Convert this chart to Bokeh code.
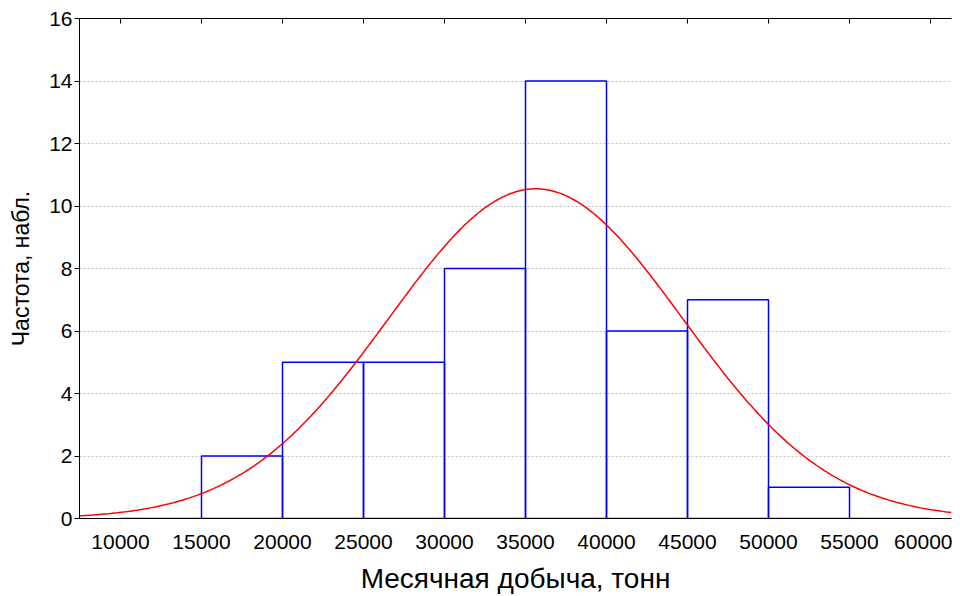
import numpy as np
from bokeh.plotting import figure
from bokeh.models import LinearAxis, Range1d, FixedTicker, ColumnDataSource
from bokeh.embed import file_html
from bokeh.resources import INLINE

# Histogram data
bin_left = [10000, 15000, 20000, 25000, 30000, 35000, 40000, 45000, 50000, 55000]
bin_right = [15000, 20000, 25000, 30000, 35000, 40000, 45000, 50000, 55000, 60000]
counts = [0, 2, 5, 5, 8, 14, 6, 7, 1, 0]

# Fitted normal curve parameters
fit_mean = 35625
fit_sd = 9075
bin_width = 5000

x_ticks = [10000, 15000, 20000, 25000, 30000, 35000, 40000, 45000, 50000, 55000, 60000]
y_ticks = [0, 2, 4, 6, 8, 10, 12, 14, 16]

X0, X1 = 7469, 61296
FONT = "Liberation Sans"

p = figure(width=952, height=596, output_backend="svg", toolbar_location=None,
           x_range=Range1d(X0, X1), y_range=Range1d(0, 16),
           x_axis_location=None, y_axis_location=None,
           min_border_left=79, min_border_right=1, min_border_top=18, min_border_bottom=76)
p.outline_line_color = None
p.background_fill_color = "white"
p.border_fill_color = "white"

# grid
p.xgrid.visible = False
p.ygrid.ticker = FixedTicker(ticks=[2, 4, 6, 8, 10, 12, 14])
p.ygrid.grid_line_color = "#c4c4c4"
p.ygrid.grid_line_dash = "2 2"
p.ygrid.grid_line_width = 1

# bottom axis
xb = LinearAxis(ticker=FixedTicker(ticks=x_ticks), axis_label="Месячная добыча, тонн")
xb.major_tick_in = 0
xb.major_tick_out = 0
xb.minor_tick_line_color = None
xb.major_label_standoff = 16
xb.major_label_text_font = FONT
xb.major_label_text_font_size = "21px"
xb.major_label_text_color = "black"
xb.axis_label_text_font = FONT
xb.axis_label_text_font_size = "28px"
xb.axis_label_text_font_style = "normal"
xb.axis_label_text_color = "black"
xb.axis_label_standoff = 11
xb.axis_line_color = "black"
p.add_layout(xb, "below")

# top axis (inward ticks, no labels)
xt = LinearAxis(ticker=FixedTicker(ticks=x_ticks))
xt.major_tick_in = 5
xt.major_tick_out = 0
xt.minor_tick_line_color = None
xt.major_label_text_color = None
xt.major_label_text_font_size = "1px"
xt.major_label_standoff = 0
xt.axis_line_color = "black"
xt.major_tick_line_color = "black"
p.add_layout(xt, "above")

# left axis
yl = LinearAxis(ticker=FixedTicker(ticks=y_ticks), axis_label="Частота, набл.")
yl.major_tick_in = 0
yl.major_tick_out = 5
yl.minor_tick_line_color = None
yl.major_label_standoff = 2
yl.major_label_text_font = FONT
yl.major_label_text_font_size = "21px"
yl.major_label_text_color = "black"
yl.axis_label_text_font = FONT
yl.axis_label_text_font_size = "23px"
yl.axis_label_text_font_style = "normal"
yl.axis_label_text_color = "black"
yl.axis_label_standoff = 12
yl.axis_line_color = "black"
p.add_layout(yl, "left")

# histogram bars
src = ColumnDataSource(dict(left=bin_left, right=bin_right, top=counts, bottom=[0] * len(counts)))
p.quad(left="left", right="right", top="top", bottom="bottom", source=src,
       fill_color=None, line_color="#0000ff", line_width=1.5)

# fitted normal curve
n_total = sum(counts)
xc = np.linspace(X0, X1, 400)
yc = n_total * bin_width / (fit_sd * np.sqrt(2 * np.pi)) * np.exp(-0.5 * ((xc - fit_mean) / fit_sd) ** 2)
p.line(xc, yc, line_color="#ff0000", line_width=1.5)

open("out.html", "w").write(file_html(p, INLINE))
